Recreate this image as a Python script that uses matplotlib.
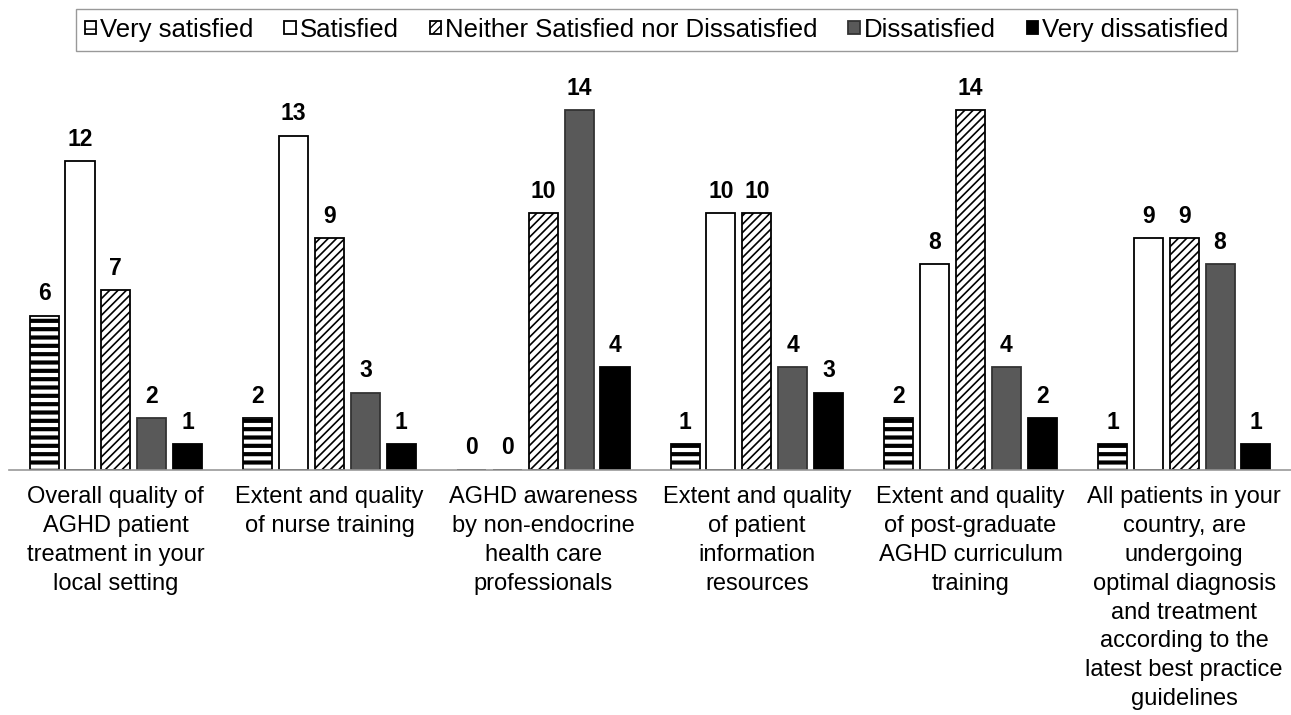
import matplotlib
matplotlib.use("Agg")
import matplotlib.pyplot as plt
import numpy as np

plt.rcParams['font.family'] = ['Liberation Sans', 'DejaVu Sans']

categories = [
    "Overall quality of\nAGHD patient\ntreatment in your\nlocal setting",
    "Extent and quality\nof nurse training",
    "AGHD awareness\nby non-endocrine\nhealth care\nprofessionals",
    "Extent and quality\nof patient\ninformation\nresources",
    "Extent and quality\nof post-graduate\nAGHD curriculum\ntraining",
    "All patients in your\ncountry, are\nundergoing\noptimal diagnosis\nand treatment\naccording to the\nlatest best practice\nguidelines",
]
series_names = ["Very satisfied", "Satisfied", "Neither Satisfied nor Dissatisfied",
                "Dissatisfied", "Very dissatisfied"]
very_satisfied = [6, 2, 0, 1, 2, 1]
satisfied = [12, 13, 0, 10, 8, 9]
neither = [7, 9, 10, 10, 14, 9]
dissatisfied = [2, 3, 14, 4, 4, 8]
very_dissatisfied = [1, 1, 4, 3, 2, 1]
series = [very_satisfied, satisfied, neither, dissatisfied, very_dissatisfied]

styles = [
    dict(facecolor="white", hatch="--", edgecolor="black"),
    dict(facecolor="white", hatch=None, edgecolor="black"),
    dict(facecolor="white", hatch="////", edgecolor="black"),
    dict(facecolor="#595959", hatch=None, edgecolor="#333333"),
    dict(facecolor="black", hatch=None, edgecolor="black"),
]
hatch_lw = [3.0, 1.0, 1.2, 1.0, 1.0]

fig = plt.figure(figsize=(12.91, 7.15), dpi=100)
ax = fig.add_axes([0.007, 0.343, 0.993, 0.575])

x = np.arange(len(categories))
step = 0.168
width = 0.136
handles = []
for i, (vals, st) in enumerate(zip(series, styles)):
    pos = x + (i - 2) * step
    with plt.rc_context({'hatch.linewidth': hatch_lw[i]}):
        bars = ax.bar(pos, vals, width=width, linewidth=1.3, label=series_names[i], **st)
    handles.append(bars)
    for p, v in zip(pos, vals):
        ax.text(p, v + 0.4, str(v), ha="center", va="bottom", fontsize=16.5, fontweight="bold")

ax.set_xlim(-0.5, 5.5)
ax.set_ylim(0, 16)
ax.set_yticks([])
for s in ["top", "left", "right"]:
    ax.spines[s].set_visible(False)
ax.spines["bottom"].set_color("#999999")
ax.spines["bottom"].set_linewidth(1.2)
ax.set_xticks(x)
ax.set_xticklabels(categories, fontsize=17, linespacing=1.4, va="top")
ax.tick_params(axis="x", length=0, pad=12)

leg = fig.legend(handles=handles, labels=series_names, loc="upper center",
                 bbox_to_anchor=(0.5085, 0.995), ncol=5, fontsize=18.5,
                 frameon=True, fancybox=False, edgecolor="#808080",
                 handlelength=0.45, handleheight=0.45, handletextpad=0.15,
                 columnspacing=1.2, borderpad=0.35, borderaxespad=0.2)
leg.get_frame().set_linewidth(1.0)

fig.savefig("out.png", dpi=100)
